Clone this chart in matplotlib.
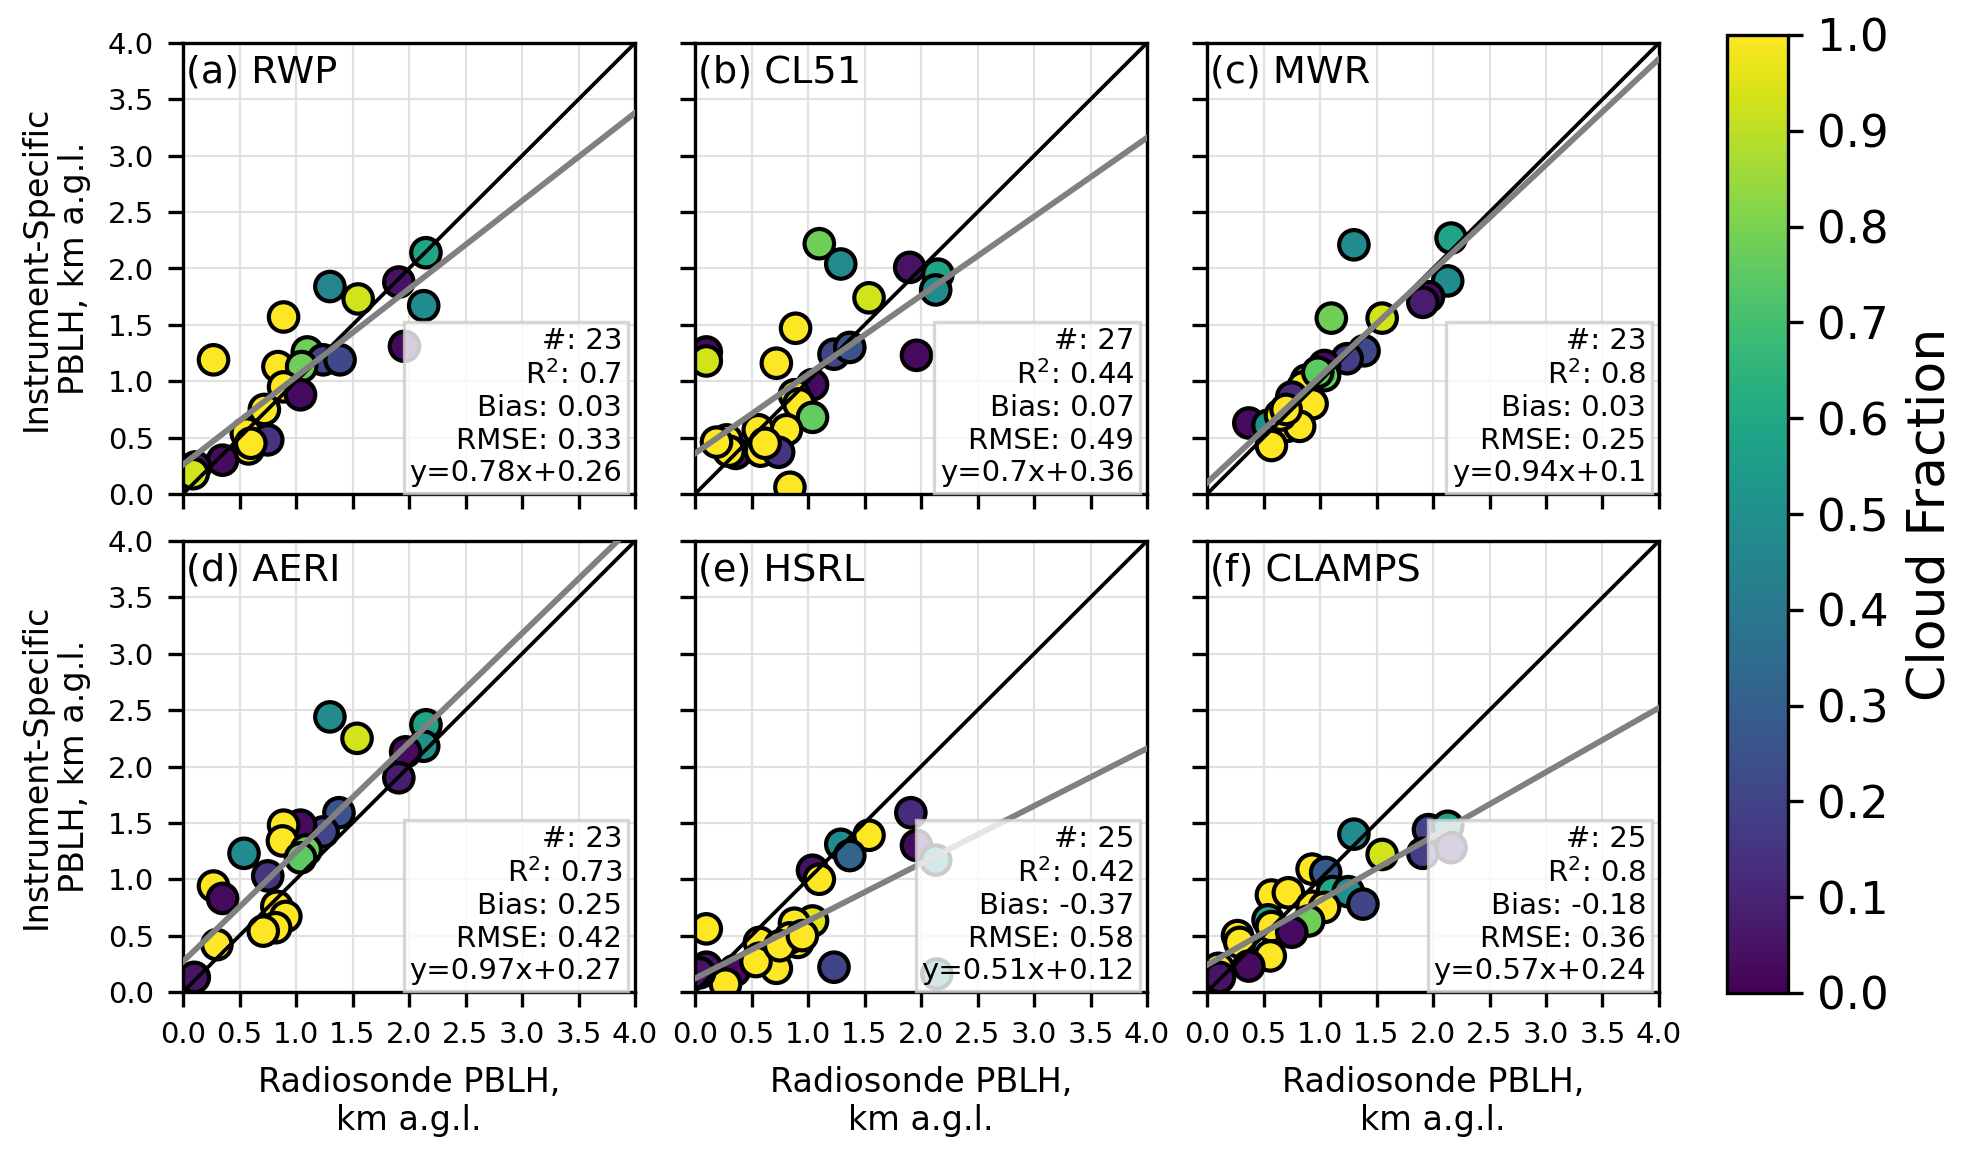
import matplotlib
matplotlib.use("Agg")
import matplotlib.pyplot as plt
import numpy as np

# panel names
names = ['(a) RWP', '(b) CL51', '(c) MWR', '(d) AERI', '(e) HSRL', '(f) CLAMPS']

# radiosonde PBLH (x), instrument PBLH (y), cloud fraction (colour) per panel
rwp_x = [2.15, 1.91, 1.30, 1.55, 2.13, 0.89, 1.96, 0.27, 1.10, 1.24, 1.39, 0.84, 1.05, 0.89, 1.04, 0.72, 0.56, 0.58, 0.75, 0.35, 0.11, 0.09, 0.60]
rwp_y = [2.14, 1.88, 1.84, 1.73, 1.67, 1.57, 1.31, 1.19, 1.26, 1.19, 1.19, 1.13, 1.13, 0.95, 0.88, 0.75, 0.54, 0.40, 0.48, 0.30, 0.24, 0.18, 0.45]
rwp_cf = [0.58, 0.05, 0.45, 0.93, 0.48, 1.0, 0.02, 1.0, 0.78, 0.2, 0.22, 1.0, 0.78, 1.0, 0.03, 1.0, 1.0, 1.0, 0.15, 0.03, 0.05, 0.93, 1.0]

cl51_x = [1.10, 1.29, 1.90, 2.15, 2.13, 1.54, 0.89, 0.10, 0.10, 1.96, 1.23, 1.37, 0.72, 1.04, 0.88, 0.92, 1.04, 0.56, 0.81, 0.28, 0.36, 0.30, 0.58, 0.74, 0.84, 0.19, 0.62]
cl51_y = [2.22, 2.04, 2.01, 1.95, 1.81, 1.74, 1.47, 1.26, 1.18, 1.23, 1.24, 1.30, 1.16, 0.97, 0.88, 0.80, 0.68, 0.57, 0.57, 0.48, 0.36, 0.38, 0.38, 0.37, 0.06, 0.46, 0.45]
cl51_cf = [0.78, 0.48, 0.05, 0.58, 0.48, 0.93, 1.0, 0.03, 0.93, 0.03, 0.2, 0.25, 1.0, 0.03, 1.0, 1.0, 0.76, 1.0, 1.0, 1.0, 0.05, 1.0, 1.0, 0.15, 1.0, 1.0, 1.0]

mwr_x = [1.30, 2.16, 2.13, 1.96, 1.91, 1.55, 1.10, 1.39, 1.24, 1.04, 1.04, 0.88, 0.85, 0.75, 0.93, 0.37, 0.54, 0.71, 0.82, 0.57, 0.65, 0.98, 0.70]
mwr_y = [2.21, 2.27, 1.89, 1.75, 1.70, 1.56, 1.56, 1.27, 1.20, 1.14, 1.05, 1.01, 0.95, 0.86, 0.80, 0.63, 0.61, 0.60, 0.60, 0.43, 0.70, 1.08, 0.75]
mwr_cf = [0.48, 0.58, 0.48, 0.03, 0.08, 0.93, 0.78, 0.22, 0.18, 0.03, 0.76, 0.93, 1.0, 0.12, 1.0, 0.03, 0.5, 1.0, 1.0, 1.0, 1.0, 0.75, 1.0]

aeri_x = [1.30, 1.54, 2.15, 2.13, 1.97, 1.91, 1.38, 1.24, 1.04, 0.89, 0.88, 1.09, 1.04, 0.54, 0.75, 0.27, 0.35, 0.83, 0.91, 0.82, 0.71, 0.30, 0.10]
aeri_y = [2.44, 2.25, 2.37, 2.18, 2.13, 1.90, 1.59, 1.42, 1.48, 1.48, 1.34, 1.26, 1.19, 1.23, 1.03, 0.94, 0.83, 0.76, 0.67, 0.57, 0.54, 0.42, 0.13]
aeri_cf = [0.48, 0.93, 0.58, 0.5, 0.03, 0.08, 0.25, 0.2, 0.03, 1.0, 1.0, 0.78, 0.75, 0.48, 0.15, 1.0, 0.03, 1.0, 1.0, 1.0, 1.0, 1.0, 0.05]

hsrl_x = [1.91, 1.96, 1.54, 1.29, 1.37, 1.04, 1.10, 2.13, 2.14, 0.10, 1.04, 0.88, 0.91, 0.84, 0.57, 0.57, 0.72, 1.23, 0.10, 0.35, 0.27, 0.54, 0.75, 0.04, 0.95]
hsrl_y = [1.59, 1.30, 1.39, 1.31, 1.21, 1.08, 1.00, 1.17, 0.16, 0.56, 0.63, 0.61, 0.44, 0.48, 0.44, 0.30, 0.21, 0.22, 0.22, 0.19, 0.07, 0.27, 0.41, 0.17, 0.50]
hsrl_cf = [0.12, 0.03, 1.0, 0.48, 0.32, 0.05, 1.0, 0.55, 0.5, 1.0, 0.95, 1.0, 1.0, 1.0, 1.0, 1.0, 1.0, 0.2, 0.05, 0.03, 1.0, 1.0, 1.0, 0.05, 1.0]

clamps_x = [1.30, 1.96, 2.13, 1.91, 2.16, 1.55, 0.93, 1.05, 1.11, 1.25, 1.38, 0.57, 0.72, 0.93, 1.04, 0.54, 0.57, 0.90, 0.75, 0.27, 0.29, 0.56, 0.37, 0.10, 0.11]
clamps_y = [1.40, 1.44, 1.47, 1.23, 1.28, 1.22, 1.09, 1.06, 0.89, 0.89, 0.78, 0.86, 0.88, 0.76, 0.75, 0.64, 0.58, 0.63, 0.53, 0.50, 0.44, 0.32, 0.23, 0.21, 0.13]
clamps_cf = [0.48, 0.2, 0.58, 0.18, 0.1, 0.93, 1.0, 0.28, 0.6, 0.5, 0.2, 1.0, 1.0, 1.0, 1.0, 0.6, 1.0, 0.78, 0.03, 1.0, 1.0, 1.0, 0.03, 1.0, 0.05]

# stats shown in each box
n_pts = [23, 27, 23, 23, 25, 25]
r2 = ['0.7', '0.44', '0.8', '0.73', '0.42', '0.8']
bias = ['0.03', '0.07', '0.03', '0.25', '-0.37', '-0.18']
rmse = ['0.33', '0.49', '0.25', '0.42', '0.58', '0.36']
slope = [0.78, 0.7, 0.94, 0.97, 0.51, 0.57]
intercept = [0.26, 0.36, 0.1, 0.27, 0.12, 0.24]

xs = [rwp_x, cl51_x, mwr_x, aeri_x, hsrl_x, clamps_x]
ys = [rwp_y, cl51_y, mwr_y, aeri_y, hsrl_y, clamps_y]
cfs = [rwp_cf, cl51_cf, mwr_cf, aeri_cf, hsrl_cf, clamps_cf]

W, H = 1970, 1161
fig = plt.figure(figsize=(W/300, H/300), dpi=300)

lefts = [183, 695, 1207]
tops = [43, 541]
aw, ah = 452, 451

axes = []
for i in range(6):
    r, c = i // 3, i % 3
    ax = fig.add_axes([lefts[c]/W, 1 - (tops[r]+ah)/H, aw/W, ah/H])
    axes.append(ax)

line = np.array([0, 4])
for i, ax in enumerate(axes):
    sc = ax.scatter(xs[i], ys[i], c=cfs[i], cmap='viridis', vmin=0, vmax=1,
                    s=50, edgecolors='black', linewidths=1.0, zorder=2)
    ax.plot(line, line, color='black', lw=0.9, zorder=3)
    ax.plot(line, slope[i]*line + intercept[i], color='grey', lw=1.4, zorder=3)
    ax.set_xlim(0, 4)
    ax.set_ylim(0, 4)
    ax.set_xticks(np.arange(0, 4.01, 0.5))
    ax.set_yticks(np.arange(0, 4.01, 0.5))
    ax.grid(color='0.88', lw=0.5, zorder=0)
    ax.set_axisbelow(True)
    ax.tick_params(labelsize=7)
    ax.text(0.006, 0.975, names[i], transform=ax.transAxes, fontsize=9.2,
            ha='left', va='top', zorder=5)
    stats = ('#: %d\nR$^2$: %s\nBias: %s\nRMSE: %s\ny=%gx+%g'
             % (n_pts[i], r2[i], bias[i], rmse[i], slope[i], intercept[i]))
    ax.text(0.972, 0.015, stats, transform=ax.transAxes, fontsize=7,
            ha='right', va='bottom', zorder=6,
            bbox=dict(boxstyle='square,pad=0.2', facecolor='white', alpha=0.8,
                      edgecolor='0.8', lw=0.8))
    if i % 3 != 0:
        ax.set_yticklabels([])
    else:
        ax.set_ylabel('Instrument-Specific\nPBLH, km a.g.l.', fontsize=8)
    if i < 3:
        ax.set_xticklabels([])
    else:
        ax.set_xlabel('Radiosonde PBLH,\nkm a.g.l.', fontsize=8)

cax = fig.add_axes([1727/W, 1 - 993/H, 61/W, (993-35)/H])
cb = fig.colorbar(sc, cax=cax)
cb.set_ticks(np.arange(0, 1.01, 0.1))
cb.ax.tick_params(labelsize=10.8)
cb.set_label('Cloud Fraction', fontsize=12.5)

fig.savefig('out.png', dpi=300)
